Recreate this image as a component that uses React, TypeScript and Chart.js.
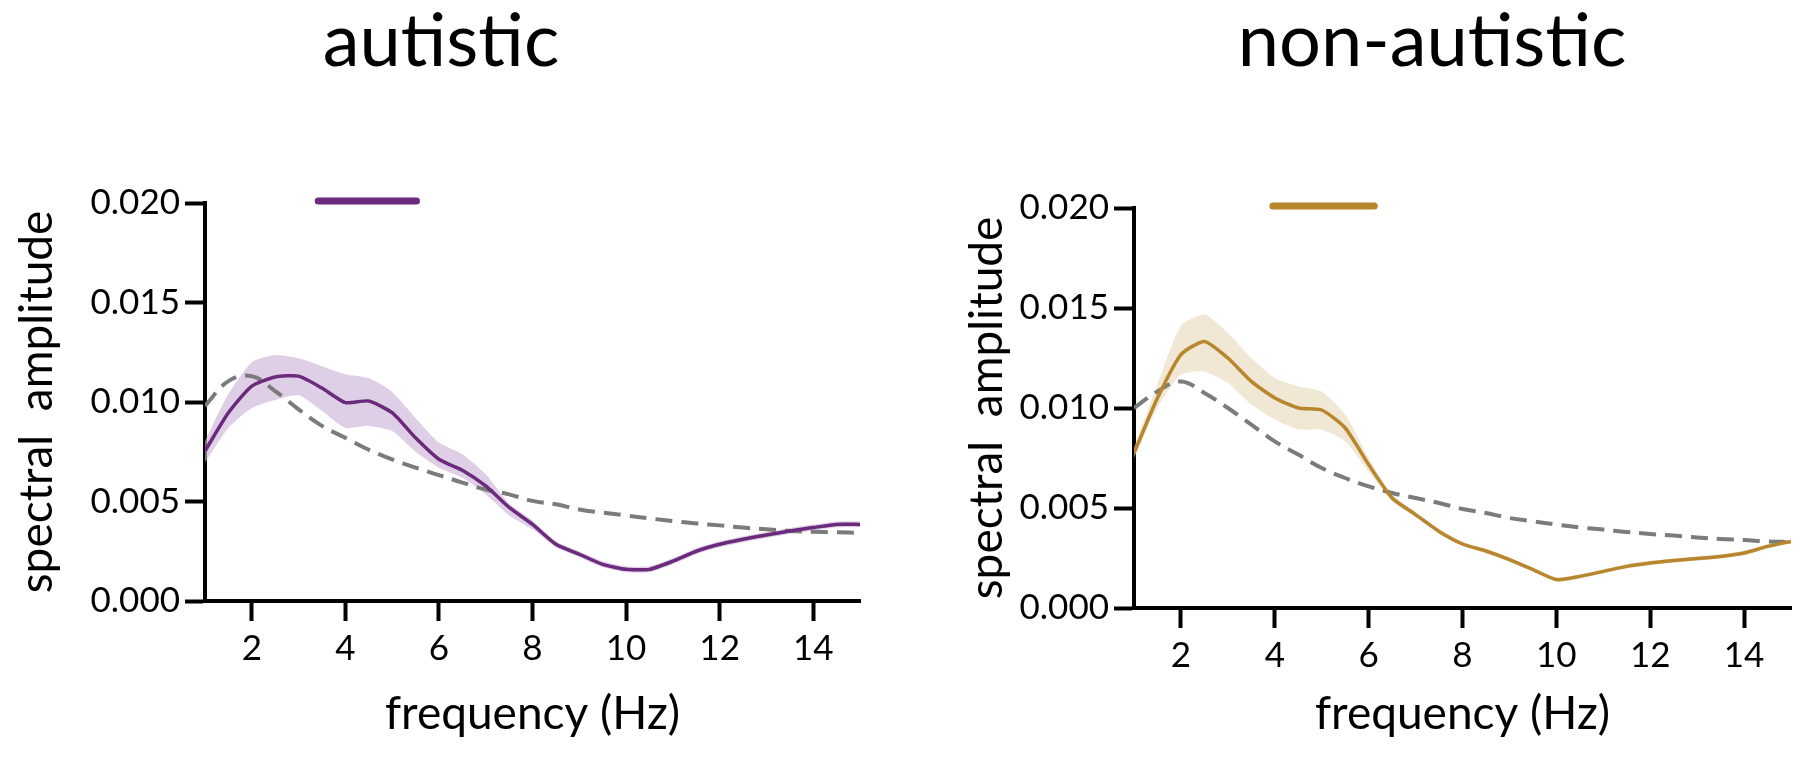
import React, { useEffect, useRef } from 'react';
import { Chart, registerables } from 'chart.js';

Chart.register(...registerables);

// ---------- data ----------
const freqs = [1, 1.5, 2, 2.5, 3, 3.5, 4, 4.5, 5, 5.5, 6, 6.5, 7, 7.5, 8, 8.5, 9, 9.5, 10, 10.5, 11, 11.5, 12, 12.5, 13, 13.5, 14, 14.5, 15];

const autisticMean = [0.00754, 0.00946, 0.0108, 0.01126, 0.0113, 0.0107, 0.00997, 0.01005, 0.00946, 0.0082, 0.00712, 0.00657, 0.00578, 0.0047, 0.00385, 0.00285, 0.00235, 0.00184, 0.00159, 0.00159, 0.002, 0.0025, 0.00285, 0.0031, 0.00332, 0.00352, 0.00369, 0.00385, 0.00385];
const autisticUpper = [0.00804, 0.0104, 0.012, 0.01236, 0.0122, 0.0118, 0.0114, 0.0112, 0.0105, 0.0092, 0.00796, 0.00737, 0.00637, 0.0049, 0.00405, 0.003, 0.0025, 0.002, 0.00175, 0.00175, 0.00215, 0.00265, 0.003, 0.00325, 0.00347, 0.00367, 0.00384, 0.004, 0.004];
const autisticLower = [0.00695, 0.0087, 0.0097, 0.0101, 0.01035, 0.00955, 0.0087, 0.0088, 0.00854, 0.0075, 0.0067, 0.0062, 0.00536, 0.0043, 0.0036, 0.0027, 0.0022, 0.0017, 0.00145, 0.00145, 0.00185, 0.00235, 0.0027, 0.00295, 0.00317, 0.00337, 0.00354, 0.0037, 0.0037];
const autisticFit = [0.0098, 0.01105, 0.0113, 0.01055, 0.00963, 0.0088, 0.0082, 0.0076, 0.00712, 0.0067, 0.00633, 0.00595, 0.0056, 0.00536, 0.00503, 0.00486, 0.0046, 0.00444, 0.0043, 0.00415, 0.00402, 0.0039, 0.0038, 0.00369, 0.0036, 0.00352, 0.00348, 0.00345, 0.00343];

const nonAutisticMean = [0.00775, 0.0105, 0.01267, 0.01333, 0.0125, 0.01133, 0.0105, 0.01, 0.0099, 0.009, 0.00717, 0.0055, 0.00467, 0.00383, 0.0032, 0.00285, 0.00242, 0.00192, 0.00142, 0.00158, 0.00183, 0.00208, 0.00225, 0.00237, 0.00247, 0.00258, 0.00275, 0.00308, 0.00333];
const nonAutisticUpper = [0.008, 0.0112, 0.0141, 0.01467, 0.01375, 0.0125, 0.0115, 0.01108, 0.01083, 0.00967, 0.0075, 0.00567, 0.0048, 0.00395, 0.00332, 0.00296, 0.00253, 0.00203, 0.00153, 0.00169, 0.00194, 0.00219, 0.00236, 0.00248, 0.00258, 0.00269, 0.00286, 0.00319, 0.00344];
const nonAutisticLower = [0.0075, 0.01, 0.01167, 0.01183, 0.01125, 0.01017, 0.00942, 0.00892, 0.00892, 0.00833, 0.00683, 0.00533, 0.00455, 0.00372, 0.0031, 0.00274, 0.00231, 0.00181, 0.00131, 0.00147, 0.00172, 0.00197, 0.00214, 0.00226, 0.00236, 0.00247, 0.00264, 0.00297, 0.00322];
const nonAutisticFit = [0.01, 0.01083, 0.01133, 0.01075, 0.01, 0.00917, 0.00833, 0.00767, 0.007, 0.0065, 0.00608, 0.00575, 0.0055, 0.00525, 0.00495, 0.00475, 0.0045, 0.00433, 0.00417, 0.00403, 0.00392, 0.0038, 0.0037, 0.00362, 0.00353, 0.00345, 0.0034, 0.00333, 0.0033];

const autisticSig = [3.42, 5.52];
const nonAutisticSig = [3.96, 6.12];
const sigLevel = 0.0201;

const xTicks = [2, 4, 6, 8, 10, 12, 14];
const yTicks = [0, 0.005, 0.01, 0.015, 0.02];
const xRange = [1, 15];
const yRange = [0, 0.02];

const titles = ['autistic', 'non-autistic'];
const xTitle = 'frequency (Hz)';
const yTitle = 'spectral  amplitude';

const FONT = 'Lato, "Noto Sans", sans-serif';

type PanelProps = {
  mean: number[];
  upper: number[];
  lower: number[];
  fit: number[];
  sig: number[];
  color: string;
  band: string;
  left: number;
  width: number;
  top: number;
  bottom: number;
  yWidth: number;
  rightPad: number;
};

function Panel(p: PanelProps) {
  const ref = useRef<HTMLCanvasElement | null>(null);
  useEffect(() => {
    if (!ref.current) return;
    const pts = (arr: number[]) => freqs.map((f, i) => ({ x: f, y: arr[i] }));
    const chart = new Chart(ref.current, {
      type: 'line',
      data: {
        datasets: [
          { data: pts(p.mean), borderColor: p.color, borderWidth: 3.5, pointRadius: 0, tension: 0.2, fill: false },
          {
            data: [{ x: p.sig[0], y: sigLevel }, { x: p.sig[1], y: sigLevel }],
            borderColor: p.color, borderWidth: 7, borderCapStyle: 'round', pointRadius: 0, fill: false, clip: false,
          } as any,
          { data: pts(p.fit), borderColor: '#7b7b7b', borderWidth: 4, borderDash: [17, 9], pointRadius: 0, tension: 0.4, fill: false },
          { data: pts(p.upper), borderWidth: 0, borderColor: 'rgba(0,0,0,0)', backgroundColor: p.band, pointRadius: 0, tension: 0.2, fill: '+1' },
          { data: pts(p.lower), borderWidth: 0, borderColor: 'rgba(0,0,0,0)', pointRadius: 0, tension: 0.2, fill: false },
        ],
      },
      options: {
        responsive: false,
        animation: false,
        devicePixelRatio: 1,
        layout: { padding: { left: 0, top: p.top, right: p.rightPad, bottom: 0 } },
        plugins: { legend: { display: false }, tooltip: { enabled: false }, title: { display: false } },
        scales: {
          x: {
            type: 'linear',
            min: xRange[0],
            max: xRange[1],
            afterBuildTicks: (s: any) => { s.ticks = xTicks.map((v) => ({ value: v })); },
            afterFit: (s: any) => { s.height = 761 - p.bottom; },
            grid: { display: true, drawOnChartArea: false, drawTicks: true, tickLength: 20, tickWidth: 4, tickColor: '#000' },
            border: { display: true, width: 4, color: '#000' },
            ticks: { color: '#000', font: { family: FONT, size: 35 }, padding: 7, maxRotation: 0, callback: (v: any) => String(v) },
            title: { display: true, text: xTitle, color: '#000', font: { family: FONT, size: 46 }, padding: { top: 0, bottom: 19 } },
          },
          y: {
            type: 'linear',
            min: yRange[0],
            max: yRange[1],
            afterBuildTicks: (s: any) => { s.ticks = yTicks.map((v) => ({ value: v })); },
            afterFit: (s: any) => { s.width = p.yWidth; },
            grid: { display: true, drawOnChartArea: false, drawTicks: true, tickLength: 20, tickWidth: 4, tickColor: '#000' },
            border: { display: true, width: 4, color: '#000' },
            ticks: { color: '#000', font: { family: FONT, size: 35 }, padding: 5, callback: (v: any) => Number(v).toFixed(3) },
            title: { display: true, text: yTitle, color: '#000', font: { family: FONT, size: 46 }, padding: { top: 10, bottom: 0 } },
          },
        },
      },
    });
    return () => chart.destroy();
  }, []);
  return (
    <canvas
      ref={ref}
      width={p.width}
      height={761}
      style={{ position: 'absolute', left: p.left, top: 0, width: p.width, height: 761 }}
    />
  );
}

export default function App() {
  return (
    <div style={{ position: 'absolute', left: 0, top: 0, width: 1800, height: 761, background: '#fff', overflow: 'hidden' }}>
      <Panel mean={autisticMean} upper={autisticUpper} lower={autisticLower} fit={autisticFit} sig={autisticSig}
        color="#6b2a7c" band="rgba(200,175,215,0.6)" left={0} width={900} top={203} bottom={601} yWidth={205} rightPad={40} />
      <Panel mean={nonAutisticMean} upper={nonAutisticUpper} lower={nonAutisticLower} fit={nonAutisticFit} sig={nonAutisticSig}
        color="#b8862c" band="rgba(230,215,185,0.6)" left={950} width={850} top={208} bottom={608} yWidth={184} rightPad={9} />
      <div style={{ position: 'absolute', left: 441 - 300, top: 1, width: 600, textAlign: 'center', font: `74px ${FONT}`, lineHeight: '74px', color: '#000' }}>{titles[0]}</div>
      <div style={{ position: 'absolute', left: 1432 - 300, top: 1, width: 600, textAlign: 'center', font: `74px ${FONT}`, lineHeight: '74px', color: '#000' }}>{titles[1]}</div>
    </div>
  );
}
